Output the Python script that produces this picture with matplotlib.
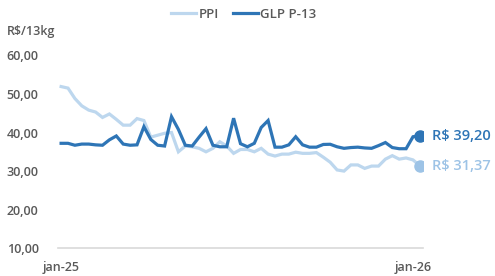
import matplotlib
matplotlib.use("Agg")
import matplotlib.pyplot as plt
import numpy as np

plt.rcParams['font.family'] = ['Open Sans', 'DejaVu Sans']

ppi = [51.9, 51.5, 48.8, 46.9, 45.8, 45.3, 43.9, 44.8, 43.4, 41.9,
       41.9, 43.6, 43.1, 38.8, 39.3, 39.8, 40.0, 35.0, 36.5, 36.3,
       35.9, 35.0, 35.9, 37.6, 36.5, 34.6, 35.6, 35.6, 35.0, 35.9,
       34.4, 33.9, 34.4, 34.4, 34.9, 34.6, 34.6, 34.8, 33.6, 32.3,
       30.3, 30.0, 31.6, 31.6, 30.7, 31.3, 31.3, 33.1, 34.0, 33.1,
       33.4, 32.9, 31.37]
glp = [37.2, 37.2, 36.7, 37.0, 37.0, 36.8, 36.7, 38.1, 39.1, 37.0,
       36.7, 36.8, 41.5, 38.2, 36.7, 36.5, 44.1, 40.8, 36.7, 36.5,
       38.8, 41.0, 36.7, 36.3, 36.3, 43.7, 37.1, 36.3, 37.2, 41.3,
       43.1, 36.2, 36.2, 36.8, 38.9, 36.8, 36.2, 36.2, 36.9, 36.95,
       36.3, 35.9, 36.1, 36.2, 36.0, 35.9, 36.6, 37.4, 36.1, 35.8,
       35.8, 38.9, 39.2]
x_ticks = [0, 51]
x_labels = ["jan-25", "jan-26"]
y_ticks = [10, 20, 30, 40, 50, 60]
series_names = ["PPI", "GLP P-13"]
end_labels = ["R$ 31,37", "R$ 39,20"]

c_light = "#BDD7EE"
c_light_mark = "#9DC3E6"
c_dark = "#2E75B6"
c_text = "#595959"

fig = plt.figure(figsize=(4.95, 2.76), dpi=100)
ax = fig.add_axes([58/495, 1 - 248.3/276, 365/495, 193/276])
x = np.arange(len(ppi))
l1, = ax.plot(x, ppi, color=c_light, lw=2.3, solid_joinstyle='miter', label=series_names[0])
l2, = ax.plot(x, glp, color=c_dark, lw=2.3, solid_joinstyle='miter', label=series_names[1])
ax.plot(x[-1], ppi[-1], 'o', color=c_light_mark, ms=8, zorder=5)
ax.plot(x[-1], glp[-1], 'o', color=c_dark, ms=8, zorder=5)
ax.annotate(end_labels[0], (x[-1], ppi[-1]), xytext=(9, 0), textcoords='offset points',
            va='center', ha='left', color=c_light_mark, fontsize=10.5, fontweight='semibold',
            annotation_clip=False)
ax.annotate(end_labels[1], (x[-1], glp[-1]), xytext=(9, 0), textcoords='offset points',
            va='center', ha='left', color=c_dark, fontsize=10.5, fontweight='semibold',
            annotation_clip=False)

ax.set_xlim(-0.45, len(ppi) - 1 + 0.45)
ax.set_ylim(10, 60)
ax.set_yticks(y_ticks)
ax.set_yticklabels([f"{v:.2f}".replace('.', ',') for v in y_ticks])
ax.set_xticks(x_ticks)
ax.set_xticklabels(x_labels)
for s in ['top', 'right', 'left']:
    ax.spines[s].set_visible(False)
ax.spines['bottom'].set_color('#D9D9D9')
ax.spines['bottom'].set_linewidth(1.2)
ax.tick_params(axis='both', length=0, colors=c_text, labelsize=9)
ax.tick_params(axis='y', pad=14)
ax.tick_params(axis='x', pad=9)
for t in ax.get_yticklabels() + ax.get_xticklabels():
    t.set_fontweight('semibold')

fig.text(7/495, 1 - 32/276, "R$/13kg", color=c_text, fontsize=9, fontweight='semibold',
         va='center', ha='left')
fig.legend(handles=[l1, l2], loc='center', bbox_to_anchor=(244/495, 1 - 14/276), ncol=2,
           frameon=False, handlelength=1.9, handletextpad=0.2, columnspacing=1.0,
           labelcolor=c_text, prop={'weight': 'semibold', 'size': 9.5})

fig.savefig("out.png", dpi=100)
